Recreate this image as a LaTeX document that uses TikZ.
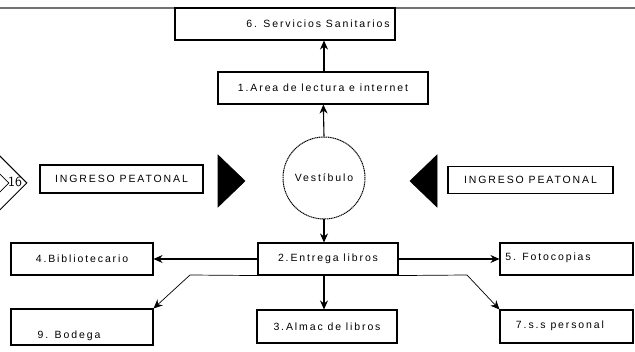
\documentclass[tikz,border=0pt]{standalone}
\usepackage{fontspec}
\usepackage{tikz}
\usetikzlibrary{arrows.meta,shapes.geometric}
\newfontfamily\planfont[LetterSpace=18]{Liberation Sans}
\tikzset{
  room/.style={draw=black, line width=1.1pt, fill=white, inner sep=2pt,
    font=\planfont\fontsize{10.5}{11}\selectfont},
  roomtext/.style={font=\planfont\fontsize{10.5}{11}\selectfont, inner sep=0pt},
  hall/.style={room, circle, dashed, dash pattern=on 1.2pt off 0.6pt, line width=1pt},
  doorway/.style={fill=black, draw=black, line width=0.6pt},
  flow/.style={-{Stealth[length=9pt, width=8pt]}, line width=1.1pt, draw=black},
  sideflow/.style={-{Stealth[length=9pt, width=8pt]}, line width=0.7pt, draw=black},
}
\begin{document}
\begin{tikzpicture}[x=1pt,y=-1pt]
\useasboundingbox (0,0) rectangle (635,352);
% wall at the top
\draw[black!55, line width=2.5pt] (0,8) -- (635,8);
% upper rooms
\node[room, minimum width=220pt, minimum height=32pt] (sanit) at (285,24) {};
\node[roomtext] (sanittxt) at (318,24) {6. Servicios Sanitarios};
\node[room, minimum width=210pt, minimum height=32pt] (lectura) at (323,88) {1.Area de lectura e internet};
% hall and entrances
\node[hall, minimum size=82pt] (vest) at (324,178) {Vest\'ibulo};
\node[room, minimum width=163pt, minimum height=28pt] (ingizq) at (121.5,179) {INGRESO PEATONAL};
\node[room, minimum width=165pt, minimum height=27pt] (ingder) at (530.5,180) {INGRESO PEATONAL};
\draw[doorway] (218,155) -- (245,181) -- (218,207) -- cycle;
\draw[doorway] (437,155) -- (410,181) -- (437,207) -- cycle;
% marker at the left edge
\node[draw, diamond, line width=1pt, minimum size=58pt, inner sep=0pt] (marca) at (-2,183) {};
\node[draw, diamond, line width=0.7pt, minimum size=26pt, inner sep=0pt] (marcain) at (-4,183) {};
\node[font=\fontsize{14}{14}\selectfont\sffamily, inner sep=0pt] (marcatxt) at (15,182) {16};
% lower rooms
\node[room, minimum width=140pt, minimum height=32pt] (entrega) at (328,259) {2.Entrega libros};
\node[room, minimum width=140pt, minimum height=33pt] (almac) at (327,326.5) {3.Almac de libros};
\node[room, minimum width=142pt, minimum height=32pt] (biblio) at (82,259) {4.Bibliotecario};
\node[room, minimum width=142pt, minimum height=36pt] (bodega) at (82,327) {};
\node[roomtext] (bodegatxt) at (69,336) {9. Bodega};
\node[room, minimum width=133pt, minimum height=32pt] (foto) at (566.5,259) {};
\node[roomtext] (fototxt) at (548,258) {5. Fotocopias};
\node[room, minimum width=133pt, minimum height=33pt] (person) at (566.5,326.5) {};
\node[roomtext] (persontxt) at (560,326) {7.s.s personal};
% connections
\draw[flow] (vest.north |- lectura.north) -- (vest.north |- sanit.south);
\draw[flow] (vest.north) -- (lectura);
\draw[flow] (vest.south) -- (vest.south |- entrega.north);
\draw[flow] (vest.south |- entrega.south) -- (vest.south |- almac.north);
\draw[flow] (entrega) -- (biblio);
\draw[flow] (entrega) -- (foto);
\coordinate (bendizq) at (190,275);
\coordinate (bendder) at (467,275);
\draw[sideflow] (entrega.south west) -- (bendizq) -- (bodega.north east);
\draw[sideflow] (entrega.south east) -- (bendder) -- (person.north west);
\end{tikzpicture}
\end{document}
